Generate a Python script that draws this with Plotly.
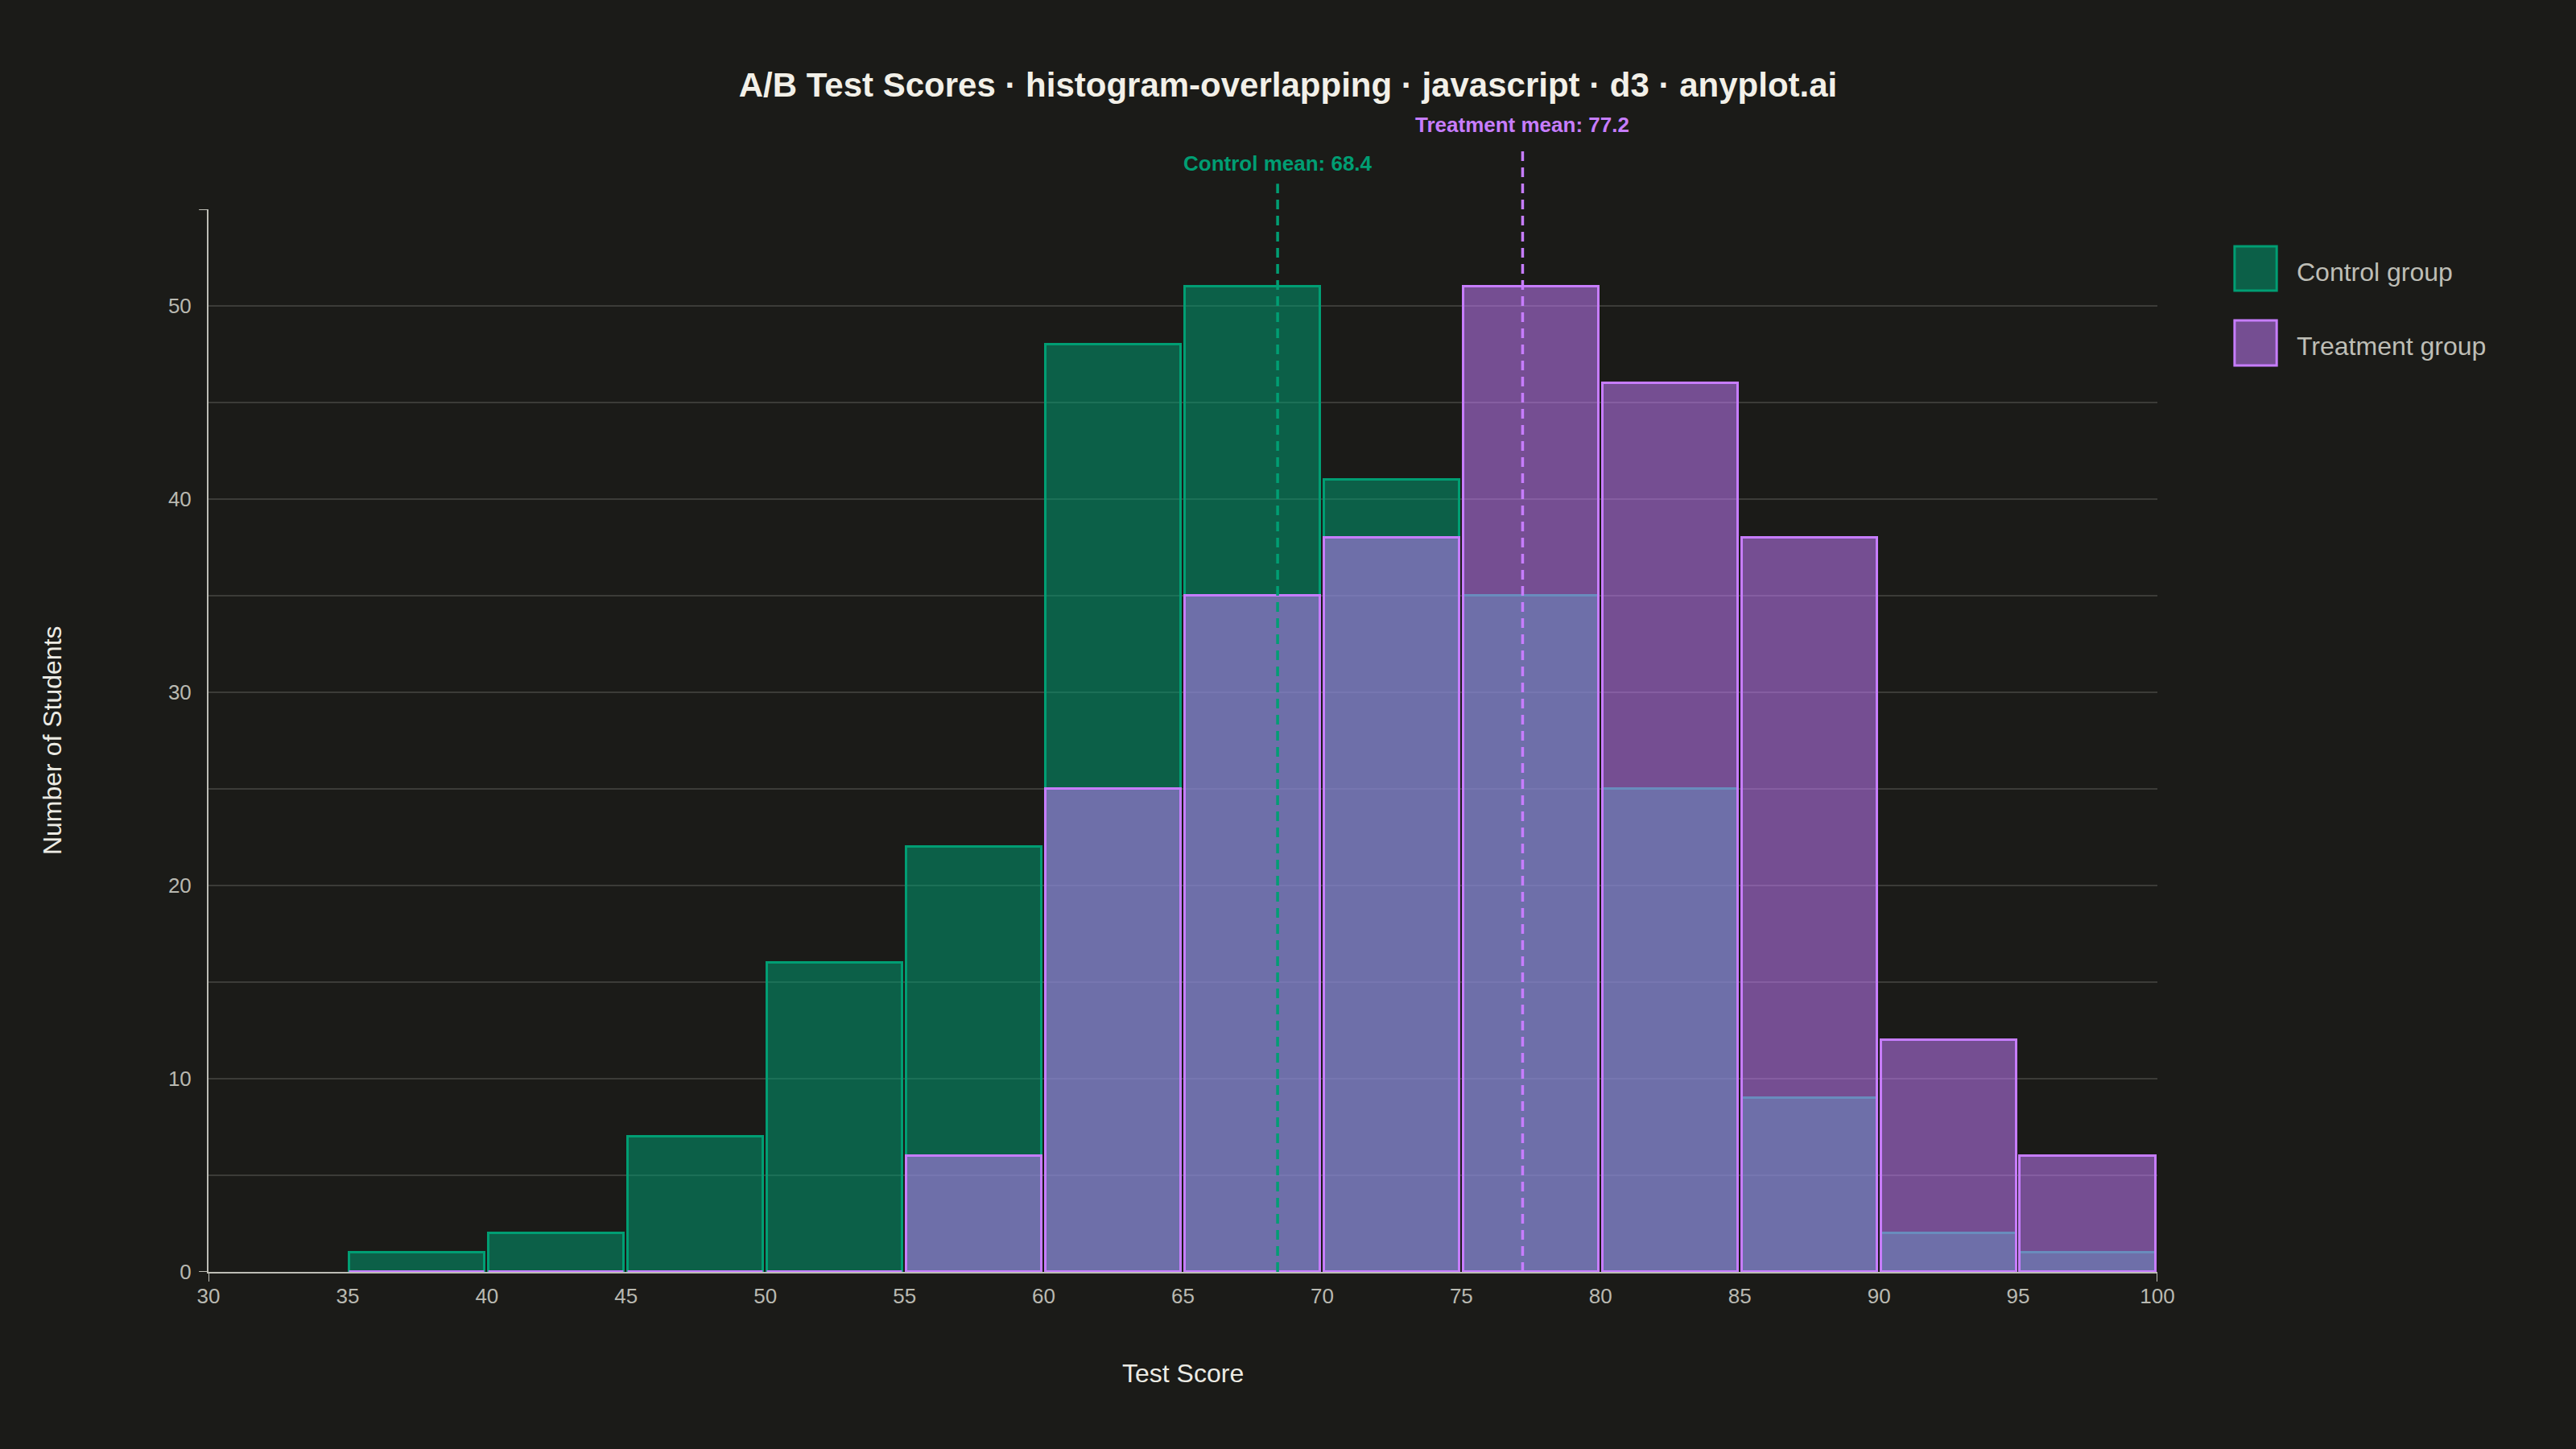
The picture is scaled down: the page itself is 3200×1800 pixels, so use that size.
import plotly.graph_objects as go

# histogram bins (left edges, width 5) and counts
bin_starts = [35, 40, 45, 50, 55, 60, 65, 70, 75, 80, 85, 90, 95]
control_counts = [1, 2, 7, 16, 22, 48, 51, 41, 35, 25, 9, 2, 1]
treatment_counts = [0, 0, 0, 0, 6, 25, 35, 38, 51, 46, 38, 12, 6]
control_mean = 68.4
treatment_mean = 77.2

x_ticks = [30, 35, 40, 45, 50, 55, 60, 65, 70, 75, 80, 85, 90, 95, 100]
y_ticks = [0, 5, 10, 15, 20, 25, 30, 35, 40, 45, 50, 55]
y_ticktext = ["0", "", "10", "", "20", "", "30", "", "40", "", "50", ""]

BG = "#1b1b18"
GREEN = "rgb(0,158,115)"
GREEN_FILL = "rgba(0,158,115,0.53)"
PURPLE = "rgb(199,125,255)"
PURPLE_FILL = "rgba(199,125,255,0.53)"
FONT = "Liberation Sans, Arial, sans-serif"

centers = [b + 2.5 for b in bin_starts]

fig = go.Figure()
fig.add_trace(go.Bar(
    x=centers, y=control_counts, width=4.86, name="Control group",
    marker=dict(color=GREEN_FILL, line=dict(color=GREEN, width=3)),
    hoverinfo="skip", showlegend=False))
fig.add_trace(go.Bar(
    x=centers, y=treatment_counts, width=4.86, name="Treatment group",
    marker=dict(color=PURPLE_FILL, line=dict(color=PURPLE, width=3)),
    hoverinfo="skip", showlegend=False))

# mean lines, running a little above the plot area
fig.add_shape(type="line", xref="x", yref="paper", x0=control_mean, x1=control_mean,
              y0=0, y1=1.024, line=dict(color=GREEN, width=3.5, dash="12px,8px"))
fig.add_shape(type="line", xref="x", yref="paper", x0=treatment_mean, x1=treatment_mean,
              y0=0, y1=1.0545, line=dict(color=PURPLE, width=3.5, dash="12px,8px"))

annotations = [
    dict(text=f"<b>Control mean: {control_mean}</b>", x=control_mean, xref="x",
         y=1.043, yref="paper", showarrow=False, yanchor="middle",
         font=dict(size=26, color=GREEN, family=FONT)),
    dict(text=f"<b>Treatment mean: {treatment_mean}</b>", x=treatment_mean, xref="x",
         y=1.0795, yref="paper", showarrow=False, yanchor="middle",
         font=dict(size=26, color=PURPLE, family=FONT)),
    dict(text="Test Score", x=0.5, xref="paper", y=-0.0955, yref="paper",
         showarrow=False, yanchor="middle",
         font=dict(size=32, color="#ecebe4", family=FONT)),
    dict(text="Number of Students", x=-0.0801, xref="paper", y=0.5, yref="paper",
         showarrow=False, textangle=-90, xanchor="center", yanchor="middle",
         font=dict(size=32, color="#ecebe4", family=FONT)),
]

# legend drawn by hand so the swatches are as large as in the original
legend_items = [("Control group", GREEN, GREEN_FILL, 0.9235, 0.9652, 0.9409),
                ("Treatment group", PURPLE, PURPLE_FILL, 0.8530, 0.8955, 0.8712)]
for label, line_c, fill_c, y0, y1, ty in legend_items:
    fig.add_shape(type="rect", xref="paper", yref="paper", x0=1.0396, x1=1.0612,
                  y0=y0, y1=y1, line=dict(color=line_c, width=3), fillcolor=fill_c)
    annotations.append(dict(text=label, x=1.0705, xref="paper", y=ty, yref="paper",
                            showarrow=False, xanchor="left", yanchor="middle",
                            font=dict(size=32, color="#bebeb6", family=FONT)))

# outer ticks at the ends of the axes (d3 style domain path)
axis_c = "#bdbdb5"
for yv in [0, 55]:
    fig.add_shape(type="line", xref="paper", yref="y", x0=-0.0049, x1=0, y0=yv, y1=yv,
                  line=dict(color=axis_c, width=2))
for xv in [30, 100]:
    fig.add_shape(type="line", xref="x", yref="paper", x0=xv, x1=xv, y0=0, y1=-0.0091,
                  line=dict(color=axis_c, width=2))

fig.update_layout(
    width=3200, height=1800,
    paper_bgcolor=BG, plot_bgcolor=BG,
    barmode="overlay", bargap=0,
    margin=dict(l=259, r=520, t=260, b=220),
    title=dict(text="<b>A/B Test Scores · histogram-overlapping · javascript · d3 · anyplot.ai</b>",
               x=0.5, xref="container", xanchor="center",
               y=1 - 105 / 1800, yref="container", yanchor="middle",
               font=dict(size=42, color="#f2f0e8", family=FONT)),
    annotations=annotations,
    font=dict(family=FONT),
    showlegend=False,
)
fig.update_xaxes(
    range=[30, 100], tickvals=x_ticks, ticks="", showgrid=False, zeroline=False,
    showline=True, linecolor=axis_c, linewidth=2,
    tickfont=dict(size=26, color="#b9b9b1", family=FONT), ticklabelstandoff=6)
fig.update_yaxes(
    range=[0, 55], tickvals=y_ticks, ticktext=y_ticktext, ticks="",
    showgrid=True, gridcolor="#3c3c38", gridwidth=2, zeroline=False,
    showline=True, linecolor=axis_c, linewidth=2,
    tickfont=dict(size=26, color="#b9b9b1", family=FONT), ticklabelstandoff=14)

# drop the default page margin so the figure fills the window edge to edge
fig.write_html("out.html", config={"displayModeBar": False},
               post_script="document.body.style.margin='0';"
                           "document.body.style.background='#1b1b18';")
